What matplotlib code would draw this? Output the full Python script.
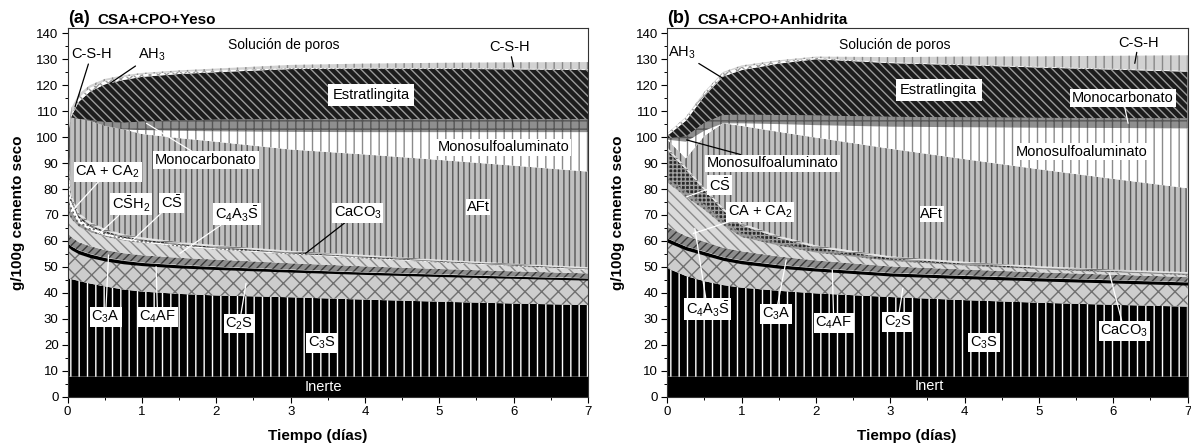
import numpy as np
import matplotlib.pyplot as plt
from matplotlib.ticker import MultipleLocator

plt.rcParams['font.family'] = ['Liberation Sans', 'DejaVu Sans']
plt.rcParams['mathtext.fontset'] = 'custom'
plt.rcParams['mathtext.rm'] = 'Liberation Sans'
plt.rcParams['mathtext.it'] = 'Liberation Sans:italic'
plt.rcParams['mathtext.bf'] = 'Liberation Sans:bold'
plt.rcParams['hatch.linewidth'] = 1.0

# ---- (a) CSA+CPO+Yeso : g/100g per phase (layer thickness) ----
t_a = [0, 0.05, 0.15, 0.3, 0.5, 0.75, 1, 1.5, 2, 3, 4, 5, 6, 7]
inerte_a = [7.7, 7.7, 7.7, 7.7, 7.7, 7.7, 7.7, 7.7, 7.7, 7.7, 7.7, 7.7, 7.7, 7.7]
c3s_a = [38.0, 37.6, 36.9, 35.9, 34.8, 33.6, 32.8, 31.9, 31.3, 30.6, 29.7, 28.9, 28.2, 27.6]
c2s_a = [12.1, 11.3, 10.4, 10.0, 9.8, 9.9, 10.0, 10.0, 10.0, 9.7, 9.7, 9.7, 9.7, 9.6]
c4af_a = [1.4, 1.4, 1.4, 1.4, 1.3, 1.3, 1.2, 1.2, 1.1, 1.0, 0.9, 0.9, 0.8, 0.8]
c3a_a = [3.8, 3.5, 3.1, 3.0, 2.9, 2.8, 2.8, 2.7, 2.7, 2.4, 2.2, 2.0, 1.9, 1.8]
c4a3s_a = [8.0, 7.0, 6.0, 5.5, 5.2, 4.9, 4.7, 4.3, 3.9, 3.4, 3.0, 2.5, 1.9, 1.3]
ca_a = [8.0, 3.0, 1.5, 0.8, 0.5, 0.3, 0.2, 0.1, 0.1, 0.1, 0.1, 0.1, 0.1, 0.1]
csh2_a = [16.0, 3.5, 1.8, 1.2, 0.9, 0.7, 0.6, 0.5, 0.4, 0.3, 0.3, 0.2, 0.2, 0.2]
cs_a = [3.0, 1.2, 0.9, 0.8, 0.7, 0.6, 0.6, 0.5, 0.5, 0.4, 0.4, 0.3, 0.3, 0.3]
caco3_a = [3.0, 1.5, 1.2, 1.0, 0.9, 0.8, 0.8, 0.7, 0.7, 0.6, 0.6, 0.5, 0.5, 0.5]
aft_a = [0.0, 29.8, 36.1, 39.0, 39.6, 40.4, 39.8, 40.0, 39.8, 39.0, 38.7, 38.4, 37.7, 36.8]
ms_a = [0, 0, 0, 0, 0, 0, 1.5, 2.8, 4.0, 6.8, 8.6, 10.7, 12.9, 15.2]
mc_a = [0, 0, 0, 0.3, 1.5, 2.5, 3.3, 4.0, 4.5, 4.9, 5.0, 5.0, 5.0, 5.0]
estr_a = [0, 0.5, 6.6, 10.9, 14.5, 16.5, 17.2, 17.9, 18.3, 19.3, 19.5, 19.4, 19.2, 18.9]
ah3_a = [0, 0.8, 1.5, 1.5, 1.3, 1.2, 1.0, 0.8, 0.6, 0.4, 0.3, 0.3, 0.3, 0.3]
csh_a = [0, 2.5, 1.5, 1.0, 0.8, 0.6, 0.5, 0.6, 0.8, 1.2, 1.6, 2.0, 2.4, 2.8]

# ---- (b) CSA+CPO+Anhidrita ----
t_b = [0, 0.25, 0.5, 0.75, 1, 1.5, 2, 3, 4, 5, 6, 7]
inerte_b = [7.7, 7.7, 7.7, 7.7, 7.7, 7.7, 7.7, 7.7, 7.7, 7.7, 7.7, 7.7]
c3s_b = [41.8, 38.8, 36.8, 35.3, 34.3, 33.1, 32.1, 30.7, 29.5, 28.5, 27.7, 27.0]
c2s_b = [10.0, 10.0, 10.0, 9.5, 9.2, 8.7, 8.6, 8.1, 8.3, 8.4, 8.4, 8.3]
c4af_b = [1.5, 1.4, 1.4, 1.3, 1.3, 1.3, 1.2, 1.2, 1.2, 1.2, 1.2, 1.2]
c3a_b = [4.5, 4.0, 3.8, 3.6, 3.5, 3.2, 2.9, 2.5, 2.3, 2.1, 2.0, 1.9]
c4a3s_b = [17.0, 15.1, 12.3, 8.6, 5.5, 4.2, 3.0, 2.1, 1.5, 1.2, 0.9, 0.8]
ca_b = [1.5, 2.0, 2.0, 1.8, 1.5, 1.0, 0.7, 0.4, 0.3, 0.2, 0.2, 0.2]
cs_b = [11.0, 8.5, 5.5, 4.0, 3.0, 2.0, 1.3, 0.7, 0.5, 0.4, 0.3, 0.3]
caco3_b = [1.0, 1.0, 0.9, 0.9, 0.8, 0.8, 0.8, 0.7, 0.7, 0.6, 0.6, 0.6]
aft_b = [3.0, 3.3, 20.1, 32.6, 37.5, 40.0, 41.5, 41.4, 39.5, 37.3, 34.9, 32.3]
ms_b = [0, 6.4, 2.0, 0.0, 1.0, 3.0, 4.8, 8.5, 12.3, 16.0, 19.6, 23.1]
mc_b = [0.5, 2.0, 3.0, 3.2, 3.3, 3.5, 3.7, 3.8, 3.8, 3.8, 3.8, 3.8]
estr_b = [1.0, 6.1, 10.3, 14.8, 17.2, 19.8, 21.7, 20.7, 20.1, 19.4, 18.7, 18.0]
ah3_b = [0.8, 1.2, 1.3, 1.3, 1.2, 0.8, 0.5, 0.3, 0.3, 0.3, 0.3, 0.3]
csh_b = [0.2, 0.3, 0.4, 0.5, 0.6, 0.5, 0.5, 2.0, 3.0, 4.0, 5.0, 6.0]

layers_a = [('inerte', inerte_a), ('c3s', c3s_a), ('c2s', c2s_a), ('c4af', c4af_a),
            ('c3a', c3a_a), ('c4a3s', c4a3s_a), ('ca', ca_a), ('csh2', csh2_a),
            ('cs', cs_a), ('caco3', caco3_a), ('aft', aft_a), ('ms', ms_a),
            ('mc', mc_a), ('estr', estr_a), ('ah3', ah3_a), ('csh', csh_a)]
layers_b = [('inerte', inerte_b), ('c3s', c3s_b), ('c2s', c2s_b), ('c4af', c4af_b),
            ('c3a', c3a_b), ('c4a3s', c4a3s_b), ('ca', ca_b), ('cs', cs_b),
            ('caco3', caco3_b), ('aft', aft_b), ('ms', ms_b), ('mc', mc_b),
            ('estr', estr_b), ('ah3', ah3_b), ('csh', csh_b)]

# face colour, hatch colour, hatch
style = {
    'inerte': ('black', 'black', None),
    'c3s': ('black', 'white', '||'),
    'c2s': ('#cdcdcd', '#707070', 'xx'),
    'c4af': ('black', 'black', None),
    'c3a': ('#8c8c8c', '#3a3a3a', '////'),
    'c4a3s': ('#dadada', '#8a8a8a', '\\\\\\'),
    'ca': ('#9a9a9a', '#555555', '....'),
    'csh2': ('white', '#555555', '....'),
    'cs': ('#2a2a2a', '#a0a0a0', '++++'),
    'caco3': ('#e4e4e4', '#777777', '---'),
    'aft': ('#c0c0c0', '#575757', '|||'),
    'ms': ('white', '#8a8a8a', '||'),
    'mc': ('#8f8f8f', '#555555', '++'),
    'estr': ('#1c1c1c', '#9a9a9a', '\\\\\\\\'),
    'ah3': ('white', '#9a9a9a', 'xxxx'),
    'csh': ('#d2d2d2', '#888888', '||'),
}

FS = 10.5


def draw_panel(ax, t, layers, xlab_x):
    base = np.zeros(len(t))
    for name, vals in layers:
        top = base + np.array(vals)
        fc, hc, h = style[name]
        ax.fill_between(t, base, top, facecolor=fc, edgecolor=hc, hatch=h,
                        linewidth=0)
        base = top
    ax.set_xlim(0, 7)
    ax.set_ylim(0, 142)
    ax.xaxis.set_major_locator(MultipleLocator(1))
    ax.xaxis.set_minor_locator(MultipleLocator(0.5))
    ax.yaxis.set_minor_locator(MultipleLocator(5))
    ax.set_yticks(np.arange(0, 141, 10))
    ax.tick_params(which='major', direction='out', length=4, width=0.8,
                   labelsize=9.5, pad=2.5)
    ax.tick_params(which='minor', direction='out', length=2.5, width=0.7)
    for s in ax.spines.values():
        s.set_linewidth(0.8)
        s.set_color('#333333')
    ax.set_xlabel('Tiempo (días)', fontweight='bold', fontsize=11)
    ax.set_ylabel('g/100g cemento seco', fontweight='bold', fontsize=11)
    ax.xaxis.set_label_coords(xlab_x, -0.088)
    ax.yaxis.set_label_coords(-0.082, 0.5)


def lab(ax, text, xy, pt=None, lc='black', box=True, pad=0.12, color='black',
        fs=FS):
    bbox = dict(boxstyle='square,pad=%s' % pad, fc='white', ec='none') if box else None
    if pt is None:
        ax.text(xy[0], xy[1], text, ha='center', va='center', fontsize=fs,
                color=color, bbox=bbox)
    else:
        ax.annotate(text, xy=pt, xytext=xy, ha='center', va='center', fontsize=fs,
                    color=color, bbox=bbox,
                    arrowprops=dict(arrowstyle='-', color=lc, lw=0.9,
                                    shrinkA=0, shrinkB=0))


fig = plt.figure(figsize=(11.91, 4.45), dpi=100)
ax1 = fig.add_axes([0.0568, 0.1085, 0.4369, 0.8285])
ax2 = fig.add_axes([0.5603, 0.1085, 0.4368, 0.8285])

draw_panel(ax1, t_a, layers_a, 0.48)
draw_panel(ax2, t_b, layers_b, 0.46)

ax1.text(0.0, 1.004, '(a)', transform=ax1.transAxes, fontsize=13,
         fontweight='bold', ha='left', va='bottom')
ax1.text(0.058, 1.004, 'CSA+CPO+Yeso', transform=ax1.transAxes, fontsize=11,
         fontweight='bold', ha='left', va='bottom')
ax2.text(0.0, 1.004, '(b)', transform=ax2.transAxes, fontsize=13,
         fontweight='bold', ha='left', va='bottom')
ax2.text(0.058, 1.004, 'CSA+CPO+Anhidrita', transform=ax2.transAxes, fontsize=11,
         fontweight='bold', ha='left', va='bottom')

# labels panel (a)
lab(ax1, 'Solución de poros', (2.91, 135.4), box=False, fs=10)
lab(ax1, 'C-S-H', (0.32, 131.9), (0.10, 111.7), box=False)
lab(ax1, r'AH$_3$', (1.13, 131.6), (0.57, 120.7), box=False)
lab(ax1, 'C-S-H', (5.94, 134.7), (6.0, 127.1), box=False)
lab(ax1, 'Estratlingita', (4.08, 116.2), pad=0.3)
lab(ax1, 'Monosulfoaluminato', (5.86, 96.0))
lab(ax1, 'Monocarbonato', (1.86, 91.2), (1.06, 105.3), lc='white')
lab(ax1, r'CA + CA$_2$', (0.54, 86.7), (0.05, 71.3), lc='white')
lab(ax1, r'C$\bar{\mathrm{S}}$H$_2$', (0.85, 74.2), (0.43, 62.9), lc='white')
lab(ax1, r'C$\bar{\mathrm{S}}$', (1.40, 74.6), (0.88, 60.4), lc='white')
lab(ax1, r'C$_4$A$_3\bar{\mathrm{S}}$', (2.28, 70.4), (1.51, 55.2), lc='white')
lab(ax1, r'CaCO$_3$', (3.90, 70.8), (3.20, 55.2), lc='black')
lab(ax1, 'AFt', (5.52, 73.1), pad=0.05)
lab(ax1, r'C$_3$A', (0.51, 30.8), (0.55, 54.6), lc='white')
lab(ax1, r'C$_4$AF', (1.21, 30.8), (1.19, 50.1), lc='white')
lab(ax1, r'C$_2$S', (2.31, 28.2), (2.40, 43.7), lc='white')
lab(ax1, r'C$_3$S', (3.42, 20.7))
lab(ax1, 'Inerte', (3.44, 3.7), box=False, color='white')

# labels panel (b)
lab(ax2, 'Solución de poros', (3.06, 135.4), box=False, fs=10)
lab(ax2, r'AH$_3$', (0.20, 132.3), (0.75, 122.6), box=False)
lab(ax2, 'C-S-H', (6.34, 136.4), (6.29, 128.4), box=False)
lab(ax2, 'Estratlingita', (3.65, 118.1), pad=0.3)
lab(ax2, 'Monocarbonato', (6.13, 115.0), (6.20, 105.3), lc='white')
lab(ax2, 'Monosulfoaluminato', (5.57, 94.4))
lab(ax2, 'Monosulfoaluminato', (1.42, 89.9), (0.26, 98.9), lc='black')
lab(ax2, r'C$\bar{\mathrm{S}}$', (0.70, 81.5), (0.26, 77.0), lc='white')
lab(ax2, r'CA + CA$_2$', (1.25, 71.3), (0.35, 62.9), lc='white')
lab(ax2, 'AFt', (3.56, 70.4), pad=0.05)
lab(ax2, r'C$_4$A$_3\bar{\mathrm{S}}$', (0.54, 33.8), (0.37, 64.9), lc='white')
lab(ax2, r'C$_3$A', (1.46, 31.8), (1.60, 52.7), lc='white')
lab(ax2, r'C$_4$AF', (2.24, 28.3), (2.22, 48.8), lc='white')
lab(ax2, r'C$_2$S', (3.10, 28.9), (3.17, 41.8), lc='white')
lab(ax2, r'C$_3$S', (4.26, 20.9))
lab(ax2, r'CaCO$_3$', (6.15, 25.3), (5.95, 47.5), lc='white')
lab(ax2, 'Inert', (3.52, 4.1), box=False, color='white')

fig.savefig('out.png', dpi=100)
